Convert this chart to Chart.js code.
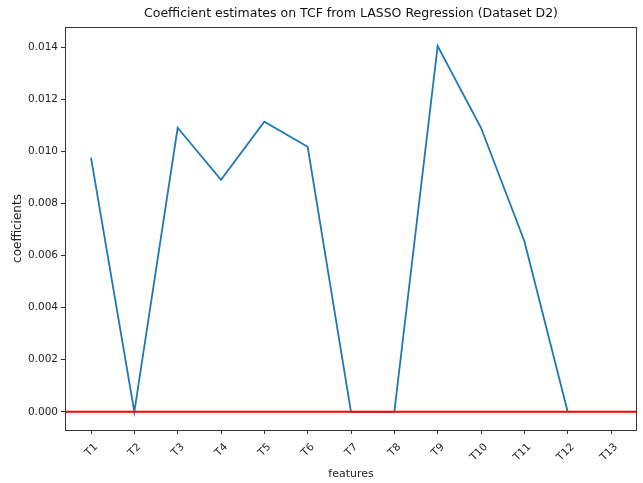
<!DOCTYPE html>
<html>
<head>
<meta charset="utf-8">
<script src="https://cdn.jsdelivr.net/npm/chart.js@4.4.1/dist/chart.umd.min.js"></script>
<style>
  html, body { margin: 0; padding: 0; background: #fff; }
  #wrap { width: 643px; height: 483px; }
</style>
</head>
<body>
<div id="wrap"><canvas id="coef-chart" width="643" height="483"></canvas></div>
<script>
    "use strict";

    // Data
    var features = ["T1", "T2", "T3", "T4", "T5", "T6", "T7", "T8", "T9", "T10", "T11", "T12", "T13"];
    var coefficients = [0.00976, 0.0, 0.01091, 0.00891, 0.01114, 0.01018, 0.0, 0.0, 0.01405, 0.01091, 0.00656, 0.0, null];
    var yTicks = [0.000, 0.002, 0.004, 0.006, 0.008, 0.010, 0.012, 0.014];

    var xMin = 0.4, xMax = 13.6;
    var yMin = -0.0007, yMax = 0.01478;

    var linePoints = coefficients.map(function (v, i) {
        return {x: i + 1, y: v};
    });

    // Frame around the plot area
    var framePlugin = {
        id: "frame",
        afterDraw: function (chart) {
            var a = chart.chartArea, ctx = chart.ctx;
            ctx.save();
            ctx.strokeStyle = "#333";
            ctx.lineWidth = 1;
            ctx.strokeRect(a.left + 0.5, a.top + 0.5, a.right - a.left - 1, a.bottom - a.top);
            ctx.restore();
        }
    };

    Chart.defaults.font.family = "'DejaVu Sans', sans-serif";
    Chart.defaults.color = "#222";

    var ctx = document.getElementById("coef-chart").getContext("2d");
    var myChart = new Chart(ctx, {
        type: "line",
        data: {
            datasets: [{
                    data: linePoints,
                    borderColor: "#1f77b4",
                    borderWidth: 1.8,
                    pointRadius: 0,
                    fill: false,
                    tension: 0,
                    order: 2
                },
                {
                    data: [{x: xMin, y: 0}, {x: xMax, y: 0}],
                    borderColor: "#ff0000",
                    borderWidth: 2,
                    pointRadius: 0,
                    fill: false,
                    order: 1
                }
            ]
        },
        options: {
            responsive: false,
            animation: false,
            layout: {padding: {left: 0, right: 6, top: 0, bottom: 0}},
            plugins: {
                legend: {display: false},
                tooltip: {enabled: false},
                title: {
                    display: true,
                    fullSize: false,
                    text: "Coefficient estimates on TCF from LASSO Regression (Dataset D2)",
                    font: {size: 12.5, weight: "normal"},
                    color: "#111",
                    padding: {top: 6, bottom: 6}
                }
            },
            scales: {
                x: {
                    type: "linear",
                    min: xMin,
                    max: xMax,
                    afterBuildTicks: function (scale) {
                        scale.ticks = features.map(function (f, i) { return {value: i + 1}; });
                    },
                    afterFit: function (scale) { scale.height = 53; },
                    ticks: {
                        minRotation: 45,
                        maxRotation: 45,
                        labelOffset: 5,
                        padding: 7,
                        font: {size: 10.5},
                        callback: function (v) { return features[Math.round(v) - 1]; }
                    },
                    grid: {
                        drawOnChartArea: false,
                        drawTicks: true,
                        tickLength: 4,
                        color: "#333"
                    },
                    border: {display: false},
                    title: {
                        display: true,
                        text: "features",
                        font: {size: 11},
                        padding: {top: 0, bottom: 2}
                    }
                },
                y: {
                    type: "linear",
                    min: yMin,
                    max: yMax,
                    afterBuildTicks: function (scale) {
                        scale.ticks = yTicks.map(function (v) { return {value: v}; });
                    },
                    afterFit: function (scale) { scale.width = 65; },
                    ticks: {
                        padding: 3,
                        font: {size: 10.5},
                        callback: function (v) { return v.toFixed(3); }
                    },
                    grid: {
                        drawOnChartArea: false,
                        drawTicks: true,
                        tickLength: 4,
                        color: "#333"
                    },
                    border: {display: false},
                    title: {
                        display: true,
                        text: "coefficients",
                        font: {size: 12},
                        padding: {top: 11, bottom: 0}
                    }
                }
            }
        },
        plugins: [framePlugin]
    });
</script>
</body>
</html>
